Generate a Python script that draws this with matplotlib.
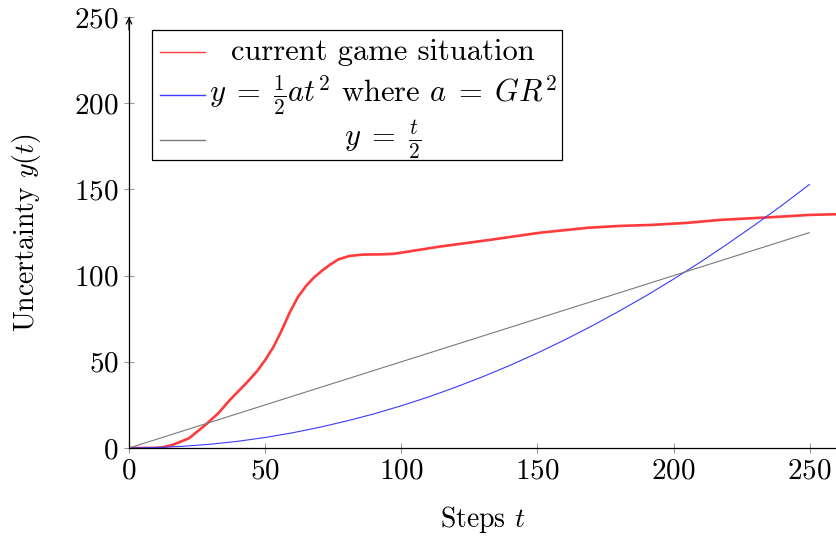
import numpy as np
import matplotlib.pyplot as plt
from matplotlib.patches import Rectangle

plt.rcParams['font.family'] = 'serif'
plt.rcParams['font.serif'] = ['cmr10']
plt.rcParams['mathtext.fontset'] = 'cm'
plt.rcParams['axes.formatter.use_mathtext'] = True

# current game situation
game_t = [0, 8, 12, 16, 22, 28, 33, 37, 43, 47, 50, 53, 56, 59, 62, 65, 68, 71, 74, 77, 81,
          86, 92, 97, 102, 114, 132, 151, 169, 180, 192, 205, 217, 235, 250, 260]
game_y = [0, 0, 0.3, 1.8, 5.6, 13.3, 20.5, 27.8, 37.5, 44.5, 51, 58.5, 68, 78.5, 87.5, 94,
          99, 103, 106.5, 109.5, 111.4, 112.2, 112.3, 112.6, 113.8, 116.8, 120.6, 124.9,
          127.8, 128.8, 129.4, 130.6, 132.3, 133.8, 135.2, 135.6]

# y = 1/2 a t^2
quad_t = [0, 10, 20, 30, 40, 50, 60, 70, 80, 90, 100, 110, 120, 130, 140, 150, 160, 170,
          180, 190, 200, 210, 220, 230, 240, 250]
quad_y = [0, 0.25, 1.0, 2.2, 3.9, 6.1, 8.8, 12.0, 15.7, 19.8, 24.5, 29.6, 35.3, 41.4, 48.0,
          55.1, 62.7, 70.8, 79.4, 88.4, 98.0, 108.0, 118.6, 129.6, 141.0, 153.0]

# y = t/2
lin_t = [0, 250]
lin_y = [0, 125]

labels = ['current game situation',
          r'$y\;=\;\frac{1}{2}at^2$ where $a\;=\;GR^2$',
          r'$y\;=\;\frac{t}{2}$']
colors = ['#ff3b3b', '#3a3aff', '#7a7a7a']
widths = [1.9, 0.8, 0.8]

xticks = [0, 50, 100, 150, 200, 250]
yticks = [0, 50, 100, 150, 200, 250]

fig = plt.figure(figsize=(8.37, 5.40), dpi=100)
ax = fig.add_axes([129/837, 92/540, 708/837, 431/540])

for (t, y), c, lw in zip([(game_t, game_y), (quad_t, quad_y), (lin_t, lin_y)], colors, widths):
    ax.plot(t, y, color=c, lw=lw, solid_capstyle='butt', solid_joinstyle='round')

ax.set_xlim(0, 260)
ax.set_ylim(0, 250)
ax.set_xticks(xticks)
ax.set_yticks(yticks)
ax.tick_params(direction='inout', length=7, width=0.8, color='#999999', labelsize=21, pad=4)
ax.spines['top'].set_visible(False)
ax.spines['right'].set_visible(False)
for s in ['left', 'bottom']:
    ax.spines[s].set_linewidth(0.9)
ax.annotate('', xy=(0, 1.0), xytext=(0, 0.97), xycoords='axes fraction',
            arrowprops=dict(arrowstyle='->', lw=0.9, color='black', shrinkA=0, shrinkB=0))

ax.set_xlabel('Steps $t$', fontsize=20, labelpad=14)
ax.set_ylabel('Uncertainty $y(t)$', fontsize=20, labelpad=22)

# legend box, pgfplots style with centred entries
box = Rectangle((23/708, (448-160)/431), 410/708, 130/431, transform=ax.transAxes,
                facecolor='white', edgecolor='black', lw=0.9, zorder=5)
ax.add_patch(box)
rows = [52, 95, 140]
for lab, c, ypx in zip(labels, colors, rows):
    yf = (448 - ypx) / 431
    ax.plot([31/708, 76/708], [yf, yf], color=c, lw=1.0, transform=ax.transAxes, zorder=6)
    ax.text(254/708, yf, lab, transform=ax.transAxes, ha='center', va='center',
            fontsize=22, zorder=6)

fig.savefig('out.png', dpi=100)
